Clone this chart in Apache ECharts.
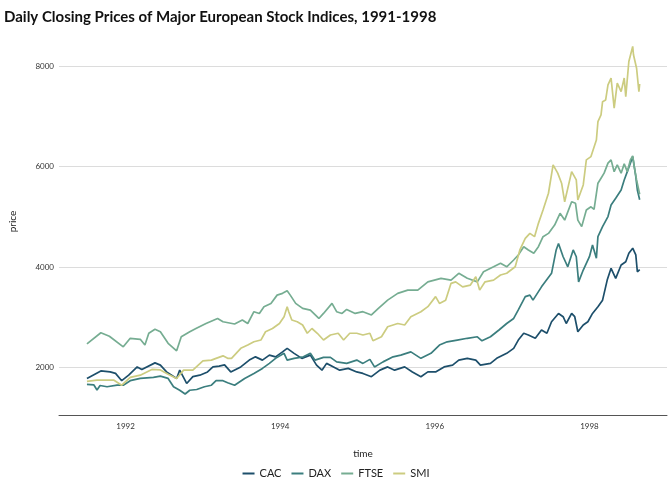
<!DOCTYPE html>
<html>
<head>
<meta charset="utf-8">
<script src="https://cdn.jsdelivr.net/npm/echarts@6/dist/echarts.min.js"></script>
<style>
  html, body { margin: 0; padding: 0; background: #fff; }
  #chart { width: 672px; height: 480px; }
</style>
</head>
<body>
<div id="chart"></div>
<script>
// values, [year, closing price]
const indexNames = ['CAC', 'DAX', 'FTSE', 'SMI'];
const indexColors = ['#1d4f6b', '#3b7e7e', '#76ad92', '#cccc80'];
const yearTicks = [1992, 1994, 1996, 1998];
const priceTicks = [2000, 4000, 6000, 8000];

const cacPrices = [[1991.50,1780],[1991.68,1930],[1991.80,1910],[1991.87,1880],[1991.95,1735],[1992.04,1845],[1992.15,2010],[1992.21,1960],[1992.38,2090],[1992.45,2045],[1992.53,1910],[1992.66,1780],[1992.70,1945],[1992.79,1680],[1992.87,1815],[1992.96,1845],[1993.06,1910],[1993.13,2010],[1993.21,2025],[1993.28,2050],[1993.36,1910],[1993.49,2010],[1993.60,2145],[1993.68,2210],[1993.77,2145],[1993.86,2245],[1993.94,2210],[1994.03,2310],[1994.09,2380],[1994.18,2280],[1994.28,2180],[1994.39,2245],[1994.47,2045],[1994.54,1945],[1994.60,2080],[1994.69,2010],[1994.77,1945],[1994.88,1980],[1994.99,1910],[1995.07,1880],[1995.18,1815],[1995.29,1945],[1995.39,2010],[1995.48,1945],[1995.61,2010],[1995.71,1910],[1995.82,1815],[1995.91,1910],[1996.01,1910],[1996.12,2010],[1996.23,2045],[1996.31,2145],[1996.42,2180],[1996.53,2145],[1996.59,2045],[1996.72,2080],[1996.80,2180],[1996.93,2280],[1997.02,2380],[1997.08,2545],[1997.15,2680],[1997.21,2645],[1997.30,2580],[1997.38,2745],[1997.45,2680],[1997.51,2910],[1997.60,3075],[1997.66,3010],[1997.70,2875],[1997.77,3075],[1997.81,3010],[1997.85,2710],[1997.92,2845],[1997.98,2910],[1998.04,3075],[1998.11,3210],[1998.17,3340],[1998.23,3740],[1998.28,3975],[1998.34,3775],[1998.41,4040],[1998.47,4105],[1998.51,4275],[1998.56,4375],[1998.60,4240],[1998.62,3905],[1998.65,3950]];

const daxPrices = [[1991.50,1660],[1991.59,1650],[1991.63,1550],[1991.67,1640],[1991.76,1615],[1991.89,1645],[1991.97,1645],[1992.06,1735],[1992.19,1780],[1992.36,1800],[1992.45,1825],[1992.55,1780],[1992.62,1615],[1992.70,1545],[1992.77,1470],[1992.83,1545],[1992.92,1560],[1993.02,1615],[1993.11,1645],[1993.17,1735],[1993.26,1735],[1993.32,1695],[1993.41,1645],[1993.54,1780],[1993.66,1880],[1993.77,1980],[1993.86,2080],[1993.94,2180],[1994.05,2280],[1994.09,2145],[1994.18,2180],[1994.30,2210],[1994.39,2280],[1994.45,2145],[1994.56,2200],[1994.65,2200],[1994.73,2110],[1994.86,2080],[1994.99,2145],[1995.07,2080],[1995.16,2160],[1995.22,2010],[1995.33,2110],[1995.46,2210],[1995.56,2245],[1995.69,2310],[1995.82,2180],[1995.95,2280],[1996.06,2445],[1996.16,2510],[1996.29,2545],[1996.42,2580],[1996.55,2610],[1996.61,2530],[1996.72,2610],[1996.83,2745],[1996.93,2875],[1997.02,2975],[1997.08,3145],[1997.17,3410],[1997.23,3440],[1997.27,3340],[1997.38,3605],[1997.51,3875],[1997.57,4340],[1997.60,4470],[1997.66,4205],[1997.72,4005],[1997.79,4340],[1997.83,4205],[1997.86,3705],[1997.92,3940],[1998.00,4205],[1998.04,4440],[1998.09,4175],[1998.11,4605],[1998.17,4805],[1998.24,5005],[1998.28,5235],[1998.34,5370],[1998.41,5535],[1998.45,5735],[1998.49,5900],[1998.53,6070],[1998.56,6200],[1998.60,5800],[1998.62,5535],[1998.65,5340]];

const ftsePrices = [[1991.50,2470],[1991.68,2690],[1991.79,2620],[1991.97,2410],[1992.06,2580],[1992.19,2560],[1992.25,2445],[1992.30,2680],[1992.38,2760],[1992.45,2710],[1992.55,2480],[1992.66,2330],[1992.72,2610],[1992.83,2710],[1992.91,2775],[1993.04,2875],[1993.19,2975],[1993.26,2910],[1993.41,2865],[1993.51,2945],[1993.58,2875],[1993.66,3110],[1993.73,3075],[1993.79,3210],[1993.88,3275],[1993.96,3440],[1994.03,3475],[1994.09,3525],[1994.13,3440],[1994.20,3275],[1994.29,3175],[1994.39,3140],[1994.50,2975],[1994.56,3075],[1994.67,3275],[1994.73,3110],[1994.80,3075],[1994.86,3155],[1994.97,3075],[1995.07,3110],[1995.18,3045],[1995.27,3175],[1995.39,3340],[1995.52,3475],[1995.65,3540],[1995.78,3540],[1995.91,3705],[1996.08,3775],[1996.21,3740],[1996.31,3875],[1996.42,3775],[1996.55,3705],[1996.63,3905],[1996.76,4005],[1996.85,4075],[1996.93,4005],[1997.02,4140],[1997.08,4240],[1997.15,4405],[1997.21,4340],[1997.28,4275],[1997.34,4405],[1997.40,4605],[1997.47,4670],[1997.55,4835],[1997.62,5070],[1997.68,4935],[1997.77,5300],[1997.82,5270],[1997.85,4935],[1997.90,4805],[1997.96,5135],[1998.02,5200],[1998.06,5150],[1998.11,5670],[1998.15,5770],[1998.19,5870],[1998.24,6070],[1998.28,6135],[1998.32,5900],[1998.36,6035],[1998.41,5870],[1998.45,6055],[1998.49,5900],[1998.53,6135],[1998.56,6215],[1998.58,6000],[1998.61,5735],[1998.65,5450]];

const smiPrices = [[1991.50,1720],[1991.63,1745],[1991.79,1745],[1991.85,1745],[1991.95,1645],[1992.06,1800],[1992.19,1845],[1992.34,1960],[1992.45,1950],[1992.55,1865],[1992.66,1780],[1992.75,1945],[1992.87,1945],[1992.94,2045],[1993.00,2130],[1993.11,2145],[1993.17,2180],[1993.26,2230],[1993.32,2180],[1993.37,2180],[1993.49,2380],[1993.58,2445],[1993.66,2510],[1993.75,2545],[1993.81,2710],[1993.90,2775],[1993.99,2875],[1994.05,3010],[1994.09,3210],[1994.11,3110],[1994.15,2945],[1994.22,2910],[1994.29,2845],[1994.35,2680],[1994.41,2775],[1994.48,2680],[1994.56,2545],[1994.65,2645],[1994.75,2680],[1994.82,2545],[1994.90,2680],[1994.99,2680],[1995.07,2645],[1995.16,2680],[1995.20,2530],[1995.31,2610],[1995.39,2810],[1995.52,2875],[1995.61,2845],[1995.69,3010],[1995.82,3110],[1995.91,3210],[1996.01,3410],[1996.06,3275],[1996.14,3340],[1996.21,3675],[1996.27,3705],[1996.36,3605],[1996.46,3640],[1996.53,3805],[1996.58,3540],[1996.65,3705],[1996.76,3740],[1996.85,3840],[1996.93,3875],[1997.04,4005],[1997.10,4340],[1997.17,4570],[1997.23,4670],[1997.29,4605],[1997.34,4870],[1997.40,5135],[1997.47,5470],[1997.53,6035],[1997.59,5870],[1997.64,5670],[1997.68,5300],[1997.77,5900],[1997.83,5735],[1997.85,5335],[1997.92,5635],[1997.96,6135],[1998.02,6200],[1998.09,6530],[1998.11,6895],[1998.15,7030],[1998.17,7295],[1998.21,7330],[1998.24,7630],[1998.28,7765],[1998.32,7165],[1998.36,7665],[1998.41,7495],[1998.45,7765],[1998.47,7395],[1998.51,8095],[1998.56,8395],[1998.57,8230],[1998.61,7960],[1998.64,7495],[1998.65,7650]];

const allPrices = [cacPrices, daxPrices, ftsePrices, smiPrices];

function buildSeries() {
    return indexNames.map((name, i) => ({
        name: name,
        type: 'line',
        data: allPrices[i],
        showSymbol: false,
        color: indexColors[i],
        lineStyle: { width: 1.7, color: indexColors[i] }
    }));
}

function init(elementId) {
    let chartElement = document.getElementById(elementId);
    let chart = echarts.init(chartElement, null, { renderer: 'canvas' });
    const font = 'Lato, "Noto Sans", sans-serif';
    let option = {
        animation: false,
        textStyle: { fontFamily: font },
        title: {
            text: 'Daily Closing Prices of Major European Stock Indices, 1991-1998',
            left: -1,
            top: 5,
            textStyle: { fontFamily: font, fontSize: 15, fontWeight: 'bold', color: '#111' }
        },
        legend: {
            data: indexNames,
            left: 'center',
            top: 463,
            icon: 'rect',
            itemWidth: 12,
            itemHeight: 2,
            itemGap: 10,
            textStyle: { fontFamily: font, fontSize: 11, color: '#222' }
        },
        grid: { left: 53, right: 5, top: 28, bottom: 65, containLabel: false },
        xAxis: {
            type: 'value',
            min: 1991.1385,
            max: 1999.0035,
            name: 'time',
            nameLocation: 'middle',
            nameGap: 34,
            nameTextStyle: { fontFamily: font, fontSize: 10, color: '#222' },
            axisLine: { show: true, lineStyle: { color: '#555', width: 1 } },
            axisTick: { show: false, customValues: yearTicks },
            axisLabel: {
                customValues: yearTicks,
                formatter: (value) => String(value),
                fontSize: 8,
                color: '#333',
                margin: 7
            },
            splitLine: { show: false }
        },
        yAxis: {
            type: 'value',
            min: 1051.5,
            max: 8762.5,
            name: 'price',
            nameLocation: 'middle',
            nameGap: 41,
            nameTextStyle: { fontFamily: font, fontSize: 10, color: '#222' },
            axisLine: { show: false },
            axisTick: { show: false, customValues: priceTicks },
            axisLabel: {
                customValues: priceTicks,
                formatter: (value) => String(value),
                fontSize: 8,
                color: '#333',
                margin: 5
            },
            splitLine: { show: true, lineStyle: { color: '#dcdcdc', width: 1 } }
        },
        series: buildSeries()
    };
    chart.setOption(option);
}

init('chart');
</script>
</body>
</html>
